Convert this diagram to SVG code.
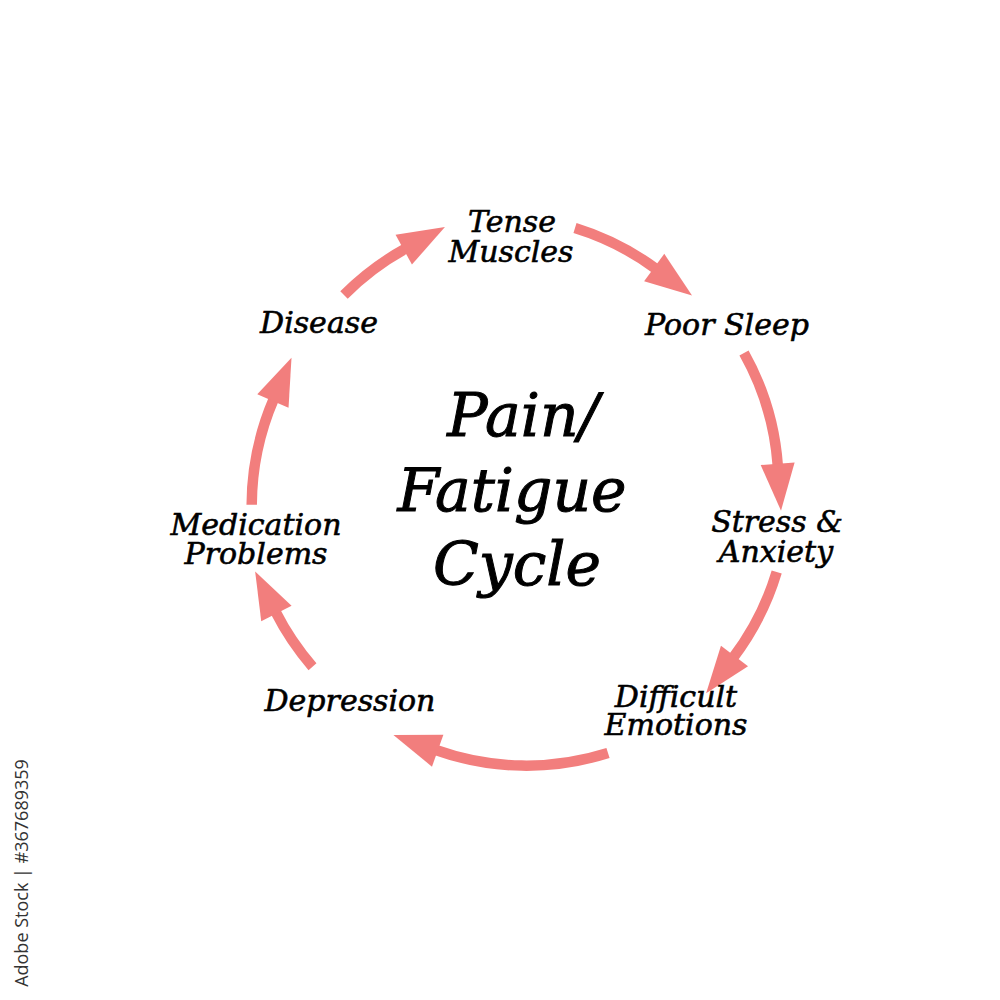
<svg xmlns="http://www.w3.org/2000/svg" width="1000" height="1000" viewBox="0 0 1000 1000">
<style>
.lbl{font-family:"DejaVu Serif","Liberation Serif",serif;font-style:italic;font-size:30px;fill:#000;stroke:#000;stroke-width:0.6;text-anchor:middle}
.title{font-family:"DejaVu Serif","Liberation Serif",serif;font-style:italic;font-size:60px;fill:#000;stroke:#000;stroke-width:1;text-anchor:middle}
.arc{fill:none;stroke:#f27e7d;stroke-width:10.5;marker-end:url(#head)}
.wm{font-family:"Open Sans","DejaVu Sans",sans-serif;font-size:18px;fill:#333;text-anchor:middle}
</style>
<defs>
<marker id="head" markerUnits="userSpaceOnUse" markerWidth="60" markerHeight="60" refX="0" refY="0" orient="auto" overflow="visible" viewBox="-10 -30 60 60">
<path d="M-2,-17 L45,0 L-2,17 Z" fill="#f27e7d"/>
</marker>
</defs>
<rect width="1000" height="1000" fill="#fff"/>
<g id="connectors">
<path class="arc" d="M344,295 A270,270 0 0 1 405.5,248.7"/>
<path class="arc" d="M575,228 A270,270 0 0 1 655.8,268.7"/>
<path class="arc" d="M744,353 A270,270 0 0 1 777.8,465.8"/>
<path class="arc" d="M776.7,572 A270,270 0 0 1 733.3,657.5"/>
<path class="arc" d="M608,753 A270,270 0 0 1 435.8,750"/>
<path class="arc" d="M312.5,666.7 A270,270 0 0 1 275.5,611.7"/>
<path class="arc" d="M251.7,504.7 A270,270 0 0 1 273.7,399.2"/>
</g>
<g id="center">
<text class="title" x="523" y="436">Pain/</text>
<text class="title" x="512" y="511">Fatigue</text>
<text class="title" x="517" y="585">Cycle</text>
</g>
<g id="tense-muscles"><text class="lbl" x="512" y="232">Tense</text><text class="lbl" x="511" y="262">Muscles</text></g>
<g id="poor-sleep"><text class="lbl" x="727" y="335">Poor Sleep</text></g>
<g id="stress-anxiety"><text class="lbl" x="777" y="532">Stress &amp;</text><text class="lbl" x="776" y="562">Anxiety</text></g>
<g id="difficult-emotions"><text class="lbl" x="676" y="707">Difficult</text><text class="lbl" x="676" y="735">Emotions</text></g>
<g id="depression"><text class="lbl" x="350" y="711">Depression</text></g>
<g id="medication-problems"><text class="lbl" x="256" y="535">Medication</text><text class="lbl" x="256" y="564">Problems</text></g>
<g id="disease"><text class="lbl" x="319" y="333">Disease</text></g>
<text class="wm" transform="translate(28,873) rotate(-90)">Adobe Stock | #367689359</text>
</svg>
